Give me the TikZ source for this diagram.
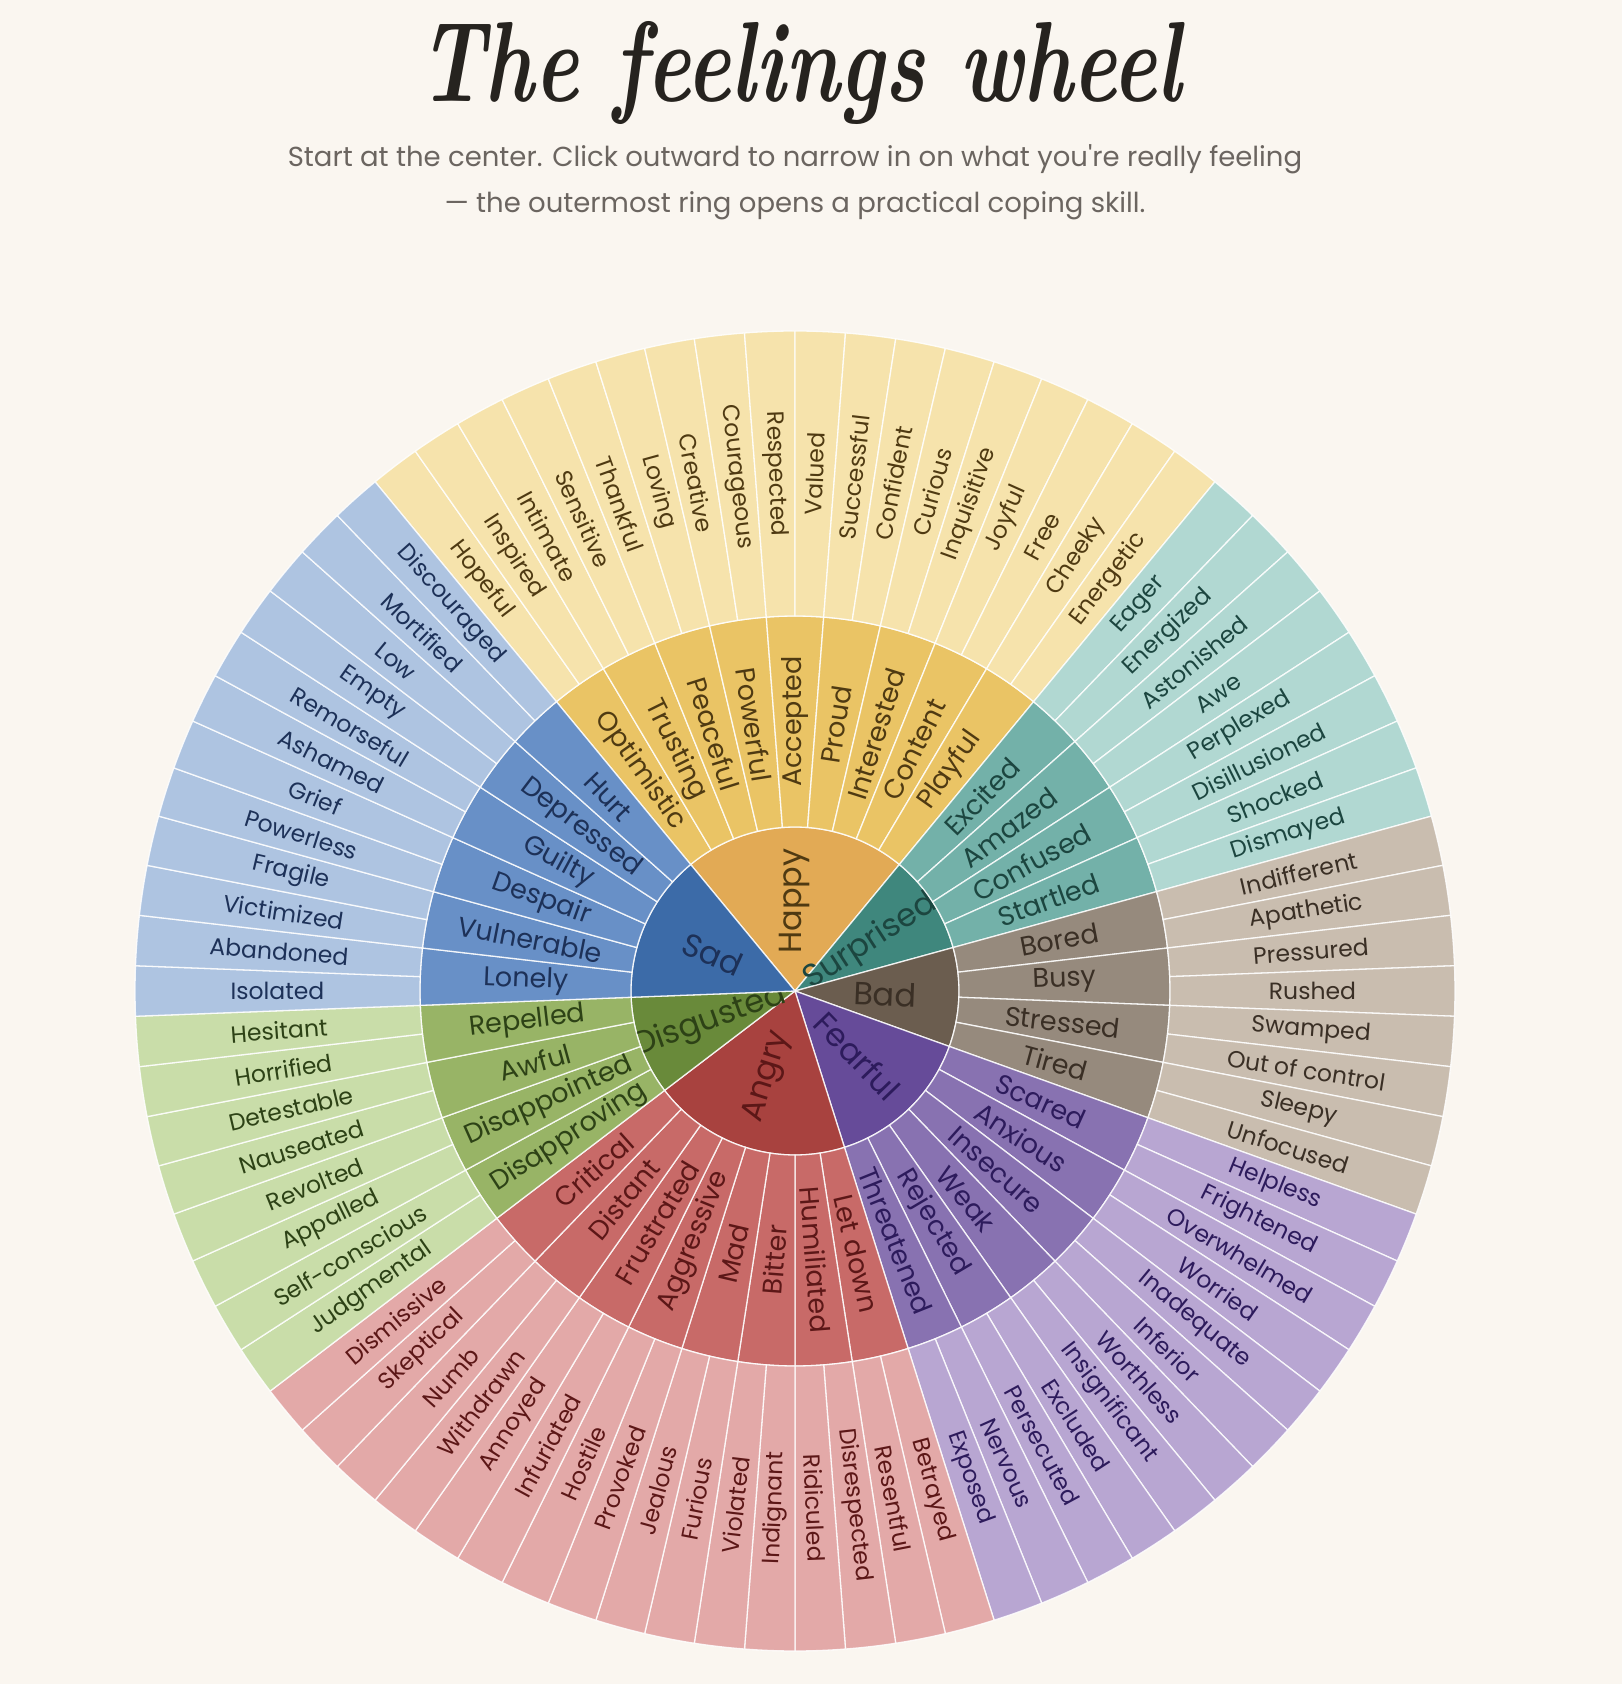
\documentclass[tikz,border=0pt]{standalone}
\usepackage{fontspec}
\usepackage{graphicx}
\newfontfamily\labfont{Poppins}
\definecolor{bg}{HTML}{FAF6F0}
\definecolor{subgray}{HTML}{6B6560}
\definecolor{titlec}{HTML}{26231F}
\definecolor{hapC}{HTML}{E2AA55}\definecolor{hapM}{HTML}{EAC465}\definecolor{hapO}{HTML}{F6E3AC}\definecolor{hapT}{HTML}{4F3A12}
\definecolor{surC}{HTML}{3F877D}\definecolor{surM}{HTML}{73B1A9}\definecolor{surO}{HTML}{B1D8D2}\definecolor{surT}{HTML}{1C4640}
\definecolor{badC}{HTML}{6B5D4F}\definecolor{badM}{HTML}{968A7D}\definecolor{badO}{HTML}{C9BDAF}\definecolor{badT}{HTML}{3A2F25}
\definecolor{feaC}{HTML}{664B99}\definecolor{feaM}{HTML}{8872B1}\definecolor{feaO}{HTML}{B8A6D2}\definecolor{feaT}{HTML}{2D1B5C}
\definecolor{angC}{HTML}{A8423F}\definecolor{angM}{HTML}{C86A68}\definecolor{angO}{HTML}{E3A9A8}\definecolor{angT}{HTML}{5C1717}
\definecolor{disC}{HTML}{698A3A}\definecolor{disM}{HTML}{98B466}\definecolor{disO}{HTML}{C9DDA9}\definecolor{disT}{HTML}{2D4216}
\definecolor{sadC}{HTML}{3C6BA8}\definecolor{sadM}{HTML}{6890C7}\definecolor{sadO}{HTML}{AEC4E1}\definecolor{sadT}{HTML}{1D3158}
\tikzset{
  sep/.style={draw=white, draw opacity=0.85, line width=1.3pt, line join=round},
  lab/.style={inner sep=0pt, anchor=center},
  olab/.style={lab, font=\labfont\fontsize{23.5}{24}\selectfont},
  mlab/.style={lab, font=\labfont\fontsize{27}{28}\selectfont},
  clab/.style={lab, font=\labfont\fontsize{32}{33}\selectfont},
  subt/.style={anchor=base, text=subgray, inner sep=0pt, font=\labfont\fontsize{27.5}{28}\selectfont},
}
\def\da{4.390243902}
\def\rA{164}\def\rB{375}\def\rC{660}
% ring cell: k1,k2,rin,rout,style,fill,text colour,label
\newcommand\ringcell[8]{%
  \pgfmathsetmacro\aS{90+(9-#1)*\da}%
  \pgfmathsetmacro\aE{90+(9-#2)*\da}%
  \pgfmathsetmacro\aM{(\aS+\aE)/2}%
  \pgfmathsetmacro\rM{(#3+#4)/2}%
  \pgfmathsetmacro\rot{(\aM>90.01 || \aM<-90.01) ? \aM+180 : \aM}%
  \path[sep, fill=#6] (\aS:#3) arc[start angle=\aS, end angle=\aE, radius=#3]
     -- (\aE:#4) arc[start angle=\aE, end angle=\aS, radius=#4] -- cycle;
  \node[#5, text=#7, rotate=\rot] (c#1x#2) at (\aM:\rM) {#8};
}
% core cell: k1,k2,fill,text colour,label
\newcommand\corecell[5]{%
  \pgfmathsetmacro\aS{90+(9-#1)*\da}%
  \pgfmathsetmacro\aE{90+(9-#2)*\da}%
  \pgfmathsetmacro\aM{(\aS+\aE)/2}%
  \pgfmathsetmacro\rot{(\aM>90.01 || \aM<-90.01) ? \aM+180 : \aM}%
  \path[sep, fill=#3] (0,0) -- (\aS:\rA) arc[start angle=\aS, end angle=\aE, radius=\rA] -- cycle;
  \node[clab, text=#4, rotate=\rot] (core#1) at (\aM:90) {#5};
}
\newcommand\midcell[5]{\ringcell{#1}{#2}{\rA}{\rB}{mlab}{#3}{#4}{#5}}
\newcommand\leafcell[4]{\pgfmathtruncatemacro\kk{#1+1}\ringcell{#1}{\kk}{\rB}{\rC}{olab}{#2}{#3}{#4}}
\begin{document}
\begin{tikzpicture}[x=1pt,y=1pt]
\fill[bg] (-795,-693) rectangle (827,991);
\useasboundingbox (-795,-693) rectangle (827,991);
% title and subtitle
\node[anchor=base, text=titlec, inner sep=0pt] (title) at (5,889)
  {\resizebox{763pt}{80pt}{\bfseries\itshape The feelings wheel}};
\node[subt] (sub1) at (0,824)
  {Start at the center. Click outward to narrow in on what you're really feeling};
\node[subt] (sub2) at (0,778)
  {— the outermost ring opens a practical coping skill.};
% core
\corecell{0}{18}{hapC}{hapT}{Happy}
\corecell{18}{26}{surC}{surT}{Surprised}
\corecell{26}{34}{badC}{badT}{Bad}
\corecell{34}{46}{feaC}{feaT}{Fearful}
\corecell{46}{62}{angC}{angT}{Angry}
\corecell{62}{70}{disC}{disT}{Disgusted}
\corecell{70}{82}{sadC}{sadT}{Sad}
% middle ring
\midcell{0}{2}{hapM}{hapT}{Optimistic}
\midcell{2}{4}{hapM}{hapT}{Trusting}
\midcell{4}{6}{hapM}{hapT}{Peaceful}
\midcell{6}{8}{hapM}{hapT}{Powerful}
\midcell{8}{10}{hapM}{hapT}{Accepted}
\midcell{10}{12}{hapM}{hapT}{Proud}
\midcell{12}{14}{hapM}{hapT}{Interested}
\midcell{14}{16}{hapM}{hapT}{Content}
\midcell{16}{18}{hapM}{hapT}{Playful}
\midcell{18}{20}{surM}{surT}{Excited}
\midcell{20}{22}{surM}{surT}{Amazed}
\midcell{22}{24}{surM}{surT}{Confused}
\midcell{24}{26}{surM}{surT}{Startled}
\midcell{26}{28}{badM}{badT}{Bored}
\midcell{28}{30}{badM}{badT}{Busy}
\midcell{30}{32}{badM}{badT}{Stressed}
\midcell{32}{34}{badM}{badT}{Tired}
\midcell{34}{36}{feaM}{feaT}{Scared}
\midcell{36}{38}{feaM}{feaT}{Anxious}
\midcell{38}{40}{feaM}{feaT}{Insecure}
\midcell{40}{42}{feaM}{feaT}{Weak}
\midcell{42}{44}{feaM}{feaT}{Rejected}
\midcell{44}{46}{feaM}{feaT}{Threatened}
\midcell{46}{48}{angM}{angT}{Let down}
\midcell{48}{50}{angM}{angT}{Humiliated}
\midcell{50}{52}{angM}{angT}{Bitter}
\midcell{52}{54}{angM}{angT}{Mad}
\midcell{54}{56}{angM}{angT}{Aggressive}
\midcell{56}{58}{angM}{angT}{Frustrated}
\midcell{58}{60}{angM}{angT}{Distant}
\midcell{60}{62}{angM}{angT}{Critical}
\midcell{62}{64}{disM}{disT}{Disapproving}
\midcell{64}{66}{disM}{disT}{Disappointed}
\midcell{66}{68}{disM}{disT}{Awful}
\midcell{68}{70}{disM}{disT}{Repelled}
\midcell{70}{72}{sadM}{sadT}{Lonely}
\midcell{72}{74}{sadM}{sadT}{Vulnerable}
\midcell{74}{76}{sadM}{sadT}{Despair}
\midcell{76}{78}{sadM}{sadT}{Guilty}
\midcell{78}{80}{sadM}{sadT}{Depressed}
\midcell{80}{82}{sadM}{sadT}{Hurt}
% outer ring
\leafcell{0}{hapO}{hapT}{Hopeful}
\leafcell{1}{hapO}{hapT}{Inspired}
\leafcell{2}{hapO}{hapT}{Intimate}
\leafcell{3}{hapO}{hapT}{Sensitive}
\leafcell{4}{hapO}{hapT}{Thankful}
\leafcell{5}{hapO}{hapT}{Loving}
\leafcell{6}{hapO}{hapT}{Creative}
\leafcell{7}{hapO}{hapT}{Courageous}
\leafcell{8}{hapO}{hapT}{Respected}
\leafcell{9}{hapO}{hapT}{Valued}
\leafcell{10}{hapO}{hapT}{Successful}
\leafcell{11}{hapO}{hapT}{Confident}
\leafcell{12}{hapO}{hapT}{Curious}
\leafcell{13}{hapO}{hapT}{Inquisitive}
\leafcell{14}{hapO}{hapT}{Joyful}
\leafcell{15}{hapO}{hapT}{Free}
\leafcell{16}{hapO}{hapT}{Cheeky}
\leafcell{17}{hapO}{hapT}{Energetic}
\leafcell{18}{surO}{surT}{Eager}
\leafcell{19}{surO}{surT}{Energized}
\leafcell{20}{surO}{surT}{Astonished}
\leafcell{21}{surO}{surT}{Awe}
\leafcell{22}{surO}{surT}{Perplexed}
\leafcell{23}{surO}{surT}{Disillusioned}
\leafcell{24}{surO}{surT}{Shocked}
\leafcell{25}{surO}{surT}{Dismayed}
\leafcell{26}{badO}{badT}{Indifferent}
\leafcell{27}{badO}{badT}{Apathetic}
\leafcell{28}{badO}{badT}{Pressured}
\leafcell{29}{badO}{badT}{Rushed}
\leafcell{30}{badO}{badT}{Swamped}
\leafcell{31}{badO}{badT}{Out of control}
\leafcell{32}{badO}{badT}{Sleepy}
\leafcell{33}{badO}{badT}{Unfocused}
\leafcell{34}{feaO}{feaT}{Helpless}
\leafcell{35}{feaO}{feaT}{Frightened}
\leafcell{36}{feaO}{feaT}{Overwhelmed}
\leafcell{37}{feaO}{feaT}{Worried}
\leafcell{38}{feaO}{feaT}{Inadequate}
\leafcell{39}{feaO}{feaT}{Inferior}
\leafcell{40}{feaO}{feaT}{Worthless}
\leafcell{41}{feaO}{feaT}{Insignificant}
\leafcell{42}{feaO}{feaT}{Excluded}
\leafcell{43}{feaO}{feaT}{Persecuted}
\leafcell{44}{feaO}{feaT}{Nervous}
\leafcell{45}{feaO}{feaT}{Exposed}
\leafcell{46}{angO}{angT}{Betrayed}
\leafcell{47}{angO}{angT}{Resentful}
\leafcell{48}{angO}{angT}{Disrespected}
\leafcell{49}{angO}{angT}{Ridiculed}
\leafcell{50}{angO}{angT}{Indignant}
\leafcell{51}{angO}{angT}{Violated}
\leafcell{52}{angO}{angT}{Furious}
\leafcell{53}{angO}{angT}{Jealous}
\leafcell{54}{angO}{angT}{Provoked}
\leafcell{55}{angO}{angT}{Hostile}
\leafcell{56}{angO}{angT}{Infuriated}
\leafcell{57}{angO}{angT}{Annoyed}
\leafcell{58}{angO}{angT}{Withdrawn}
\leafcell{59}{angO}{angT}{Numb}
\leafcell{60}{angO}{angT}{Skeptical}
\leafcell{61}{angO}{angT}{Dismissive}
\leafcell{62}{disO}{disT}{Judgmental}
\leafcell{63}{disO}{disT}{Self-conscious}
\leafcell{64}{disO}{disT}{Appalled}
\leafcell{65}{disO}{disT}{Revolted}
\leafcell{66}{disO}{disT}{Nauseated}
\leafcell{67}{disO}{disT}{Detestable}
\leafcell{68}{disO}{disT}{Horrified}
\leafcell{69}{disO}{disT}{Hesitant}
\leafcell{70}{sadO}{sadT}{Isolated}
\leafcell{71}{sadO}{sadT}{Abandoned}
\leafcell{72}{sadO}{sadT}{Victimized}
\leafcell{73}{sadO}{sadT}{Fragile}
\leafcell{74}{sadO}{sadT}{Powerless}
\leafcell{75}{sadO}{sadT}{Grief}
\leafcell{76}{sadO}{sadT}{Ashamed}
\leafcell{77}{sadO}{sadT}{Remorseful}
\leafcell{78}{sadO}{sadT}{Empty}
\leafcell{79}{sadO}{sadT}{Low}
\leafcell{80}{sadO}{sadT}{Mortified}
\leafcell{81}{sadO}{sadT}{Discouraged}
\end{tikzpicture}
\end{document}
